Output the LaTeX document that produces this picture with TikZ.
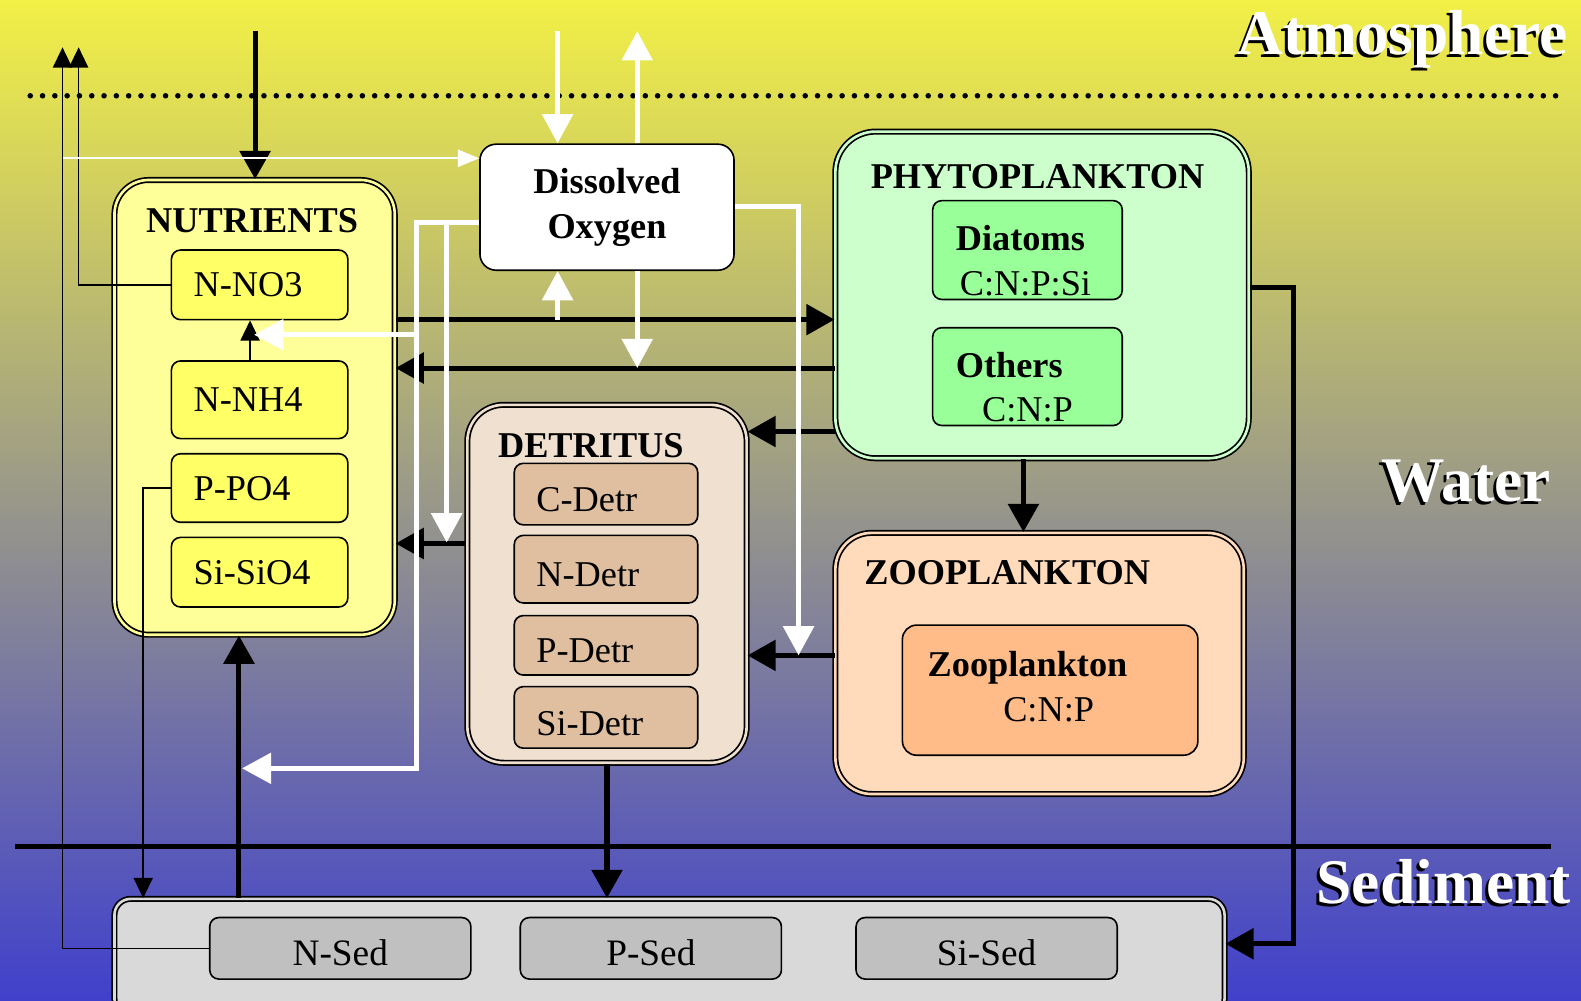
\documentclass[tikz,border=0pt]{standalone}
\usepackage{fontspec}
\setmainfont{Liberation Serif}
\usetikzlibrary{arrows.meta}

\definecolor{bgtop}{RGB}{242,240,70}
\definecolor{bgmid}{RGB}{162,162,150}
\definecolor{bgbot}{RGB}{64,64,204}
\definecolor{nutout}{RGB}{255,255,153}
\definecolor{nutin}{RGB}{255,255,102}
\definecolor{phyout}{RGB}{204,255,204}
\definecolor{phyin}{RGB}{153,255,153}
\definecolor{detout}{RGB}{239,224,208}
\definecolor{detin}{RGB}{223,191,159}
\definecolor{zooout}{RGB}{255,218,187}
\definecolor{zooin}{RGB}{255,187,136}
\definecolor{sedout}{RGB}{217,217,217}
\definecolor{sedin}{RGB}{192,192,192}

\begin{document}
\begin{tikzpicture}[x=1pt,y=-1pt,
  every node/.style={font=\fontsize{36}{44}\selectfont},
  outerbox/.style={draw=black,line width=1.7pt,double=#1,double distance=2.6pt,fill=#1,inner sep=0pt},
  innerbox/.style={draw=black,line width=1.6pt,fill=#1,rounded corners=9pt},
  boxtitle/.style={font=\bfseries\fontsize{36}{44}\selectfont,inner sep=0pt,anchor=base},
  nuttext/.style={text width=131pt,inner xsep=22pt,inner ysep=0pt,align=left,text depth=0pt},
  dettext/.style={text width=138pt,inner xsep=22pt,inner ysep=0pt,align=left,text height=35pt,text depth=0pt},
  phytext/.style={text width=142pt,inner xsep=23pt,inner ysep=0pt,align=left,text height=46pt},
  sedtext/.style={minimum width=259pt,minimum height=61pt,inner sep=0pt,text height=35pt,text depth=0pt,font=\fontsize{37}{44}\selectfont},
  layer/.style={font=\bfseries\fontsize{63}{70}\selectfont,inner sep=0pt,anchor=base east,text=white},
  layershadow/.style={layer,text=black},
  flux/.style={line width=5pt,-{Triangle[length=28pt,width=30pt]}},
  oxflux/.style={white,line width=5pt,-{Triangle[length=29pt,width=30pt]}},
  oxthin/.style={white,line width=2pt,-{Triangle[length=21pt,width=17pt]}},
  thinflux/.style={line width=1.5pt,-{Triangle[length=20pt,width=19pt]}}
]
\clip (0,0) rectangle (1568,992);
\shade[top color=bgtop,middle color=bgmid,bottom color=bgbot] (0,0) rectangle (1568,992);

% layers
\draw[line width=5.5pt,line cap=round,dash pattern=on 0pt off 12.2pt] (30,95) -- (1550,95);
\draw[line width=5pt] (15,840) -- (1538,840);
\node (atmshadow) at (1552,57.5) [layershadow]{Atmosphere};
\node (atm) at (1555,54.5) [layer]{Atmosphere};
\node (watshadow) at (1535,500.5) [layershadow]{Water};
\node (wat) at (1538,497.5) [layer]{Water};
\node (sedlshadow) at (1555,899) [layershadow]{Sediment};
\node (sedl) at (1558,896) [layer]{Sediment};

% nutrients
\node (nut) at (252.5,404) [outerbox=nutout,rounded corners=34pt,minimum width=278pt,minimum height=451pt]{};
\node (nuttitle) at (250,231) [boxtitle]{NUTRIENTS};
\node (no3) at (257.5,282.5) [innerbox=nutin,nuttext,minimum height=69pt]{N-NO3};
\node (nh4) at (257.5,396.5) [innerbox=nutin,nuttext,minimum height=77pt]{N-NH4};
\node (po4) at (257.5,484) [innerbox=nutin,nuttext,minimum height=68pt]{P-PO4};
\node (sio4) at (257.5,567.5) [innerbox=nutin,nuttext,minimum height=69pt]{Si-SiO4};

% oxygen
\node (o2) at (602,205.5) [innerbox=white,rounded corners=16pt,minimum width=252pt,minimum height=125pt,font=\bfseries\fontsize{36}{44.5}\selectfont,align=center]{Dissolved\\Oxygen};

% phytoplankton
\node (phy) at (1033.5,292.5) [outerbox=phyout,rounded corners=40pt,minimum width=410pt,minimum height=324pt]{};
\node (phytitle) at (1029,186.5) [boxtitle]{PHYTOPLANKTON};
\node (dia) at (1019,248) [innerbox=phyin,phytext,minimum height=98pt]{\textbf{Diatoms}\\\hspace*{4pt}C:N:P:Si};
\node (oth) at (1019,373.5) [innerbox=phyin,phytext,minimum height=97pt]{\textbf{Others}\\\hspace*{26pt}C:N:P};

% zooplankton
\node (zoo) at (1031,658) [outerbox=zooout,rounded corners=36pt,minimum width=405pt,minimum height=259pt]{};
\node (zootitle) at (857,580) [boxtitle,anchor=base west]{ZOOPLANKTON};
\node (zoc) at (1041.5,684.5) [innerbox=zooin,rounded corners=14pt,text width=243pt,inner xsep=25pt,inner ysep=0pt,align=left,text height=18pt,minimum height=129pt]{\textbf{Zooplankton}\\\hspace*{75pt}C:N:P};

% detritus
\node (det) at (602,579) [outerbox=detout,rounded corners=36pt,minimum width=277pt,minimum height=355pt]{};
\node (dettitle) at (586,454) [boxtitle]{DETRITUS};
\node (cdet) at (601,490) [innerbox=detin,dettext,minimum height=61pt]{C-Detr};
\node (ndet) at (601,564.5) [innerbox=detin,dettext,minimum height=67pt]{N-Detr};
\node (pdet) at (601,640) [innerbox=detin,dettext,minimum height=59pt]{P-Detr};
\node (sidet) at (601,711.5) [innerbox=detin,dettext,minimum height=61pt]{Si-Detr};

% sediment
\node (sed) at (664,949) [outerbox=sedout,rounded corners=16pt,minimum width=1101pt,minimum height=115pt]{};
\node (nsed) at (337.5,940.5) [innerbox=sedin,sedtext]{N-Sed};
\node (psed) at (645.5,940.5) [innerbox=sedin,sedtext]{P-Sed};
\node (sised) at (978.5,940.5) [innerbox=sedin,sedtext]{Si-Sed};

% free ends
\coordinate (depo) at (253,31);
\coordinate (o2in) at (553,31);
\coordinate (o2out) at (632,31);
\coordinate (vent1) at (62,47);
\coordinate (vent2) at (78,47);

% fluxes
\draw[flux] (depo) -- (depo |- nut.north);
\draw[thinflux] (no3.west) -- (vent2 |- no3.west) -- (vent2);
\draw[thinflux] (nsed.west) -- (vent1 |- nsed.west) -- (vent1);
\draw[oxthin] (vent1 |- 0,157) -- (o2.west |- 0,157);
\draw[oxflux] (o2in) -- (o2in |- o2.north);
\draw[oxflux] (o2out |- o2.north) -- (o2out);
\draw[flux] (nut.east |- 0,317) -- (phy.west |- 0,317);
\draw[flux] (phy.west |- 0,365) -- (nut.east |- 0,365);
\draw[oxflux] (o2in |- 0,317) -- (o2in |- o2.south);
\draw[oxflux] (o2out |- o2.south) -- (o2out |- 0,365);
\draw[flux] (phy.west |- 0,428) -- (det.east |- 0,428);
\draw[flux] (det.west |- 0,539) -- (nut.east |- 0,539);
\draw[flux] (zoo.west |- 0,650) -- (det.east |- 0,650);
\draw[flux] (phy.south -| 1015,0) -- (zoo.north -| 1015,0);
\draw[thinflux] (nh4.north -| 248,0) -- (no3.south -| 248,0);
\draw[thinflux] (po4.west) -| (sed.north -| 142,0);
\draw[flux] (sed.north -| 237,0) -- (nut.south -| 237,0);
\draw[flux] (det.south) -- (det.south |- sed.north);
\draw[flux] (phy.east |- 0,285) -- (1283,285) -- (1283,936) -- (sed.east |- 0,936);
\draw[oxflux] (o2.west |- 0,221) -- (413,221) -- (413,762) -- (240,762);
\draw[oxflux] (443,221) -- (443,538);
\draw[oxflux] (413,332) -- (252,332);
\draw[oxflux] (o2.east |- 0,205) -- (792,205) -- (792,650);
\end{tikzpicture}
\end{document}
